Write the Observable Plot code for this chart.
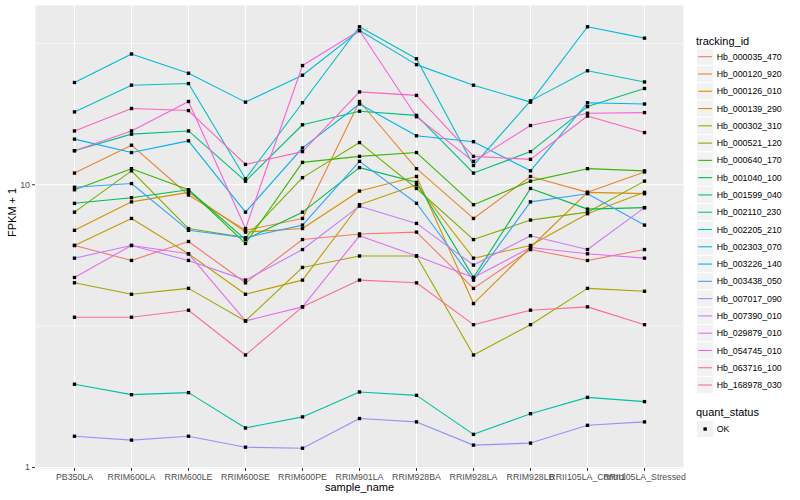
<!DOCTYPE html>
<html>
<head>
<meta charset="utf-8">
<script src="https://cdn.jsdelivr.net/npm/d3@7"></script>
<script src="https://cdn.jsdelivr.net/npm/@observablehq/plot@0.6"></script>
<style>
html, body { margin: 0; padding: 0; background: #fff; }
#wrap { position: relative; width: 800px; height: 500px; overflow: hidden; background: #fff;
  font-family: "Liberation Sans", Arial, Helvetica, sans-serif; }
#chart { position: absolute; left: 0; top: 0; }
#legend { position: absolute; left: 690px; top: 0; }
</style>
</head>
<body>
<div id="wrap"><div id="chart"></div><svg id="legend" width="110" height="500"></svg></div>
<script>
// ---- data (FPKM + 1) ----
const samples = ["PB350LA", "RRIM600LA", "RRIM600LE", "RRIM600SE", "RRIM600PE", "RRIM901LA",
  "RRIM928BA", "RRIM928LA", "RRIM928LB", "RRII105LA_Control", "RRII105LA_Stressed"];

const trackingIds = ["Hb_000035_470", "Hb_000120_920", "Hb_000126_010", "Hb_000139_290", "Hb_000302_310",
  "Hb_000521_120", "Hb_000640_170", "Hb_001040_100", "Hb_001599_040", "Hb_002110_230",
  "Hb_002205_210", "Hb_002303_070", "Hb_003226_140", "Hb_003438_050", "Hb_007017_090",
  "Hb_007390_010", "Hb_029879_010", "Hb_054745_010", "Hb_063716_100", "Hb_168978_030"];

const colors = ["#F8766D", "#EA8331", "#D89000", "#C09B00", "#A3A500", "#7CAE00", "#39B600", "#00BB4E",
  "#00BF7D", "#00C1A3", "#00BFC4", "#00BAE0", "#00B0F6", "#35A2FF", "#9590FF", "#C77CFF",
  "#E76BF3", "#FA62DB", "#FF62BC", "#FF6C91"];

const quantStatus = ["OK"];

const Hb_000035_470 = [6.1, 5.4, 6.3, 4.5, 6.4, 6.7, 6.8, 4.3, 5.9, 5.4, 5.9];
const Hb_000120_920 = [11.0, 13.8, 9.2, 6.9, 7.6, 19.7, 11.4, 7.6, 10.7, 9.4, 11.1];
const Hb_000126_010 = [6.9, 8.7, 9.4, 6.8, 7.0, 9.5, 10.7, 3.8, 6.0, 9.4, 9.3];
const Hb_000139_290 = [6.1, 7.6, 5.7, 4.1, 4.6, 8.5, 10.0, 5.5, 6.1, 7.9, 9.4];
const Hb_000302_310 = [4.5, 4.1, 4.3, 3.3, 5.1, 5.6, 5.6, 2.5, 3.2, 4.3, 4.2];
const Hb_000521_120 = [8.0, 11.2, 7.0, 6.5, 10.6, 14.1, 9.7, 6.4, 7.5, 8.0, 10.3];
const Hb_000640_170 = [9.6, 11.4, 9.6, 6.2, 12.0, 12.6, 13.0, 8.5, 10.3, 11.4, 11.2];
const Hb_001040_100 = [8.6, 9.0, 9.6, 6.4, 8.0, 11.5, 10.2, 4.7, 9.7, 8.2, 8.3];
const Hb_001599_040 = [13.2, 15.1, 15.5, 10.3, 16.3, 18.2, 17.6, 11.0, 13.1, 18.9, 21.9];
const Hb_002110_230 = [1.97, 1.81, 1.84, 1.38, 1.51, 1.85, 1.80, 1.31, 1.55, 1.77, 1.71];
const Hb_002205_210 = [18.1, 22.5, 22.8, 10.5, 19.5, 36.2, 27.9, 11.7, 19.8, 25.3, 23.1];
const Hb_002303_070 = [23.0, 29.0, 24.8, 19.6, 24.4, 35.1, 26.6, 22.5, 19.6, 36.2, 33.0];
const Hb_003226_140 = [14.5, 13.0, 14.3, 8.0, 13.5, 19.3, 14.9, 14.2, 11.2, 19.5, 19.3];
const Hb_003438_050 = [9.8, 10.1, 6.9, 6.5, 7.2, 12.1, 8.6, 4.6, 8.7, 9.3, 7.2];
const Hb_007017_090 = [1.29, 1.25, 1.29, 1.18, 1.17, 1.49, 1.45, 1.20, 1.22, 1.41, 1.45];
const Hb_007390_010 = [5.5, 6.1, 5.4, 4.6, 5.9, 8.4, 7.3, 5.2, 6.6, 5.9, 8.3];
const Hb_029879_010 = [4.7, 6.1, 5.7, 3.3, 3.7, 6.6, 5.6, 4.7, 6.0, 5.7, 5.5];
const Hb_054745_010 = [13.2, 15.5, 19.7, 7.0, 26.4, 35.1, 17.4, 12.1, 16.2, 17.9, 18.0];
const Hb_063716_100 = [15.5, 18.6, 18.3, 11.8, 13.1, 21.3, 20.7, 12.6, 12.3, 17.5, 15.3];
const Hb_168978_030 = [3.4, 3.4, 3.6, 2.5, 3.7, 4.6, 4.5, 3.2, 3.6, 3.7, 3.2];

const series = [Hb_000035_470, Hb_000120_920, Hb_000126_010, Hb_000139_290, Hb_000302_310,
  Hb_000521_120, Hb_000640_170, Hb_001040_100, Hb_001599_040, Hb_002110_230,
  Hb_002205_210, Hb_002303_070, Hb_003226_140, Hb_003438_050, Hb_007017_090,
  Hb_007390_010, Hb_029879_010, Hb_054745_010, Hb_063716_100, Hb_168978_030];

const yBreaks = [1, 10];
const yMinorBreaks = [Math.sqrt(10), Math.sqrt(1000)];

// ---- table for the library ----
const data = trackingIds.flatMap((id, i) =>
  samples.map((s, j) => ({id, sample: s, value: series[i][j], status: quantStatus[0]})));

const FONT = '"Liberation Sans", Arial, Helvetica, sans-serif';

const chart = Plot.plot({
  width: 690,
  height: 500,
  marginLeft: 35,
  marginRight: 7,
  marginTop: 5,
  marginBottom: 32,
  style: {fontFamily: FONT, fontSize: "8.8px", background: "white", color: "black"},
  x: {type: "point", domain: samples, padding: 0.6},
  y: {type: "log", domain: [0.992, 43.05]},
  color: {domain: trackingIds, range: colors},
  marks: [
    Plot.frame({fill: "#EBEBEB", stroke: "none"}),
    Plot.ruleY(yMinorBreaks, {stroke: "white", strokeWidth: 0.55}),
    Plot.ruleY(yBreaks, {stroke: "white", strokeWidth: 1.1}),
    Plot.ruleX(samples, {stroke: "white", strokeWidth: 1.1}),
    Plot.line(data, {x: "sample", y: "value", z: "id", stroke: "id", strokeWidth: 1.1}),
    Plot.dot(data, {x: "sample", y: "value", symbol: "square", r: 1.9, fill: "black", stroke: "none"}),
    Plot.axisX({tickSize: 3, tickPadding: 2, stroke: "#333333", fill: "#4D4D4D", label: null}),
    Plot.axisY({ticks: yBreaks, tickFormat: d => String(d), tickSize: 3, tickPadding: 2.5,
      stroke: "#333333", fill: "#4D4D4D", label: null}),
    Plot.text(["sample_name"], {text: d => d, frameAnchor: "bottom", dy: 22, fontSize: 11, fill: "black"}),
    Plot.text(["FPKM + 1"], {text: d => d, frameAnchor: "left", dx: -23, rotate: -90, fontSize: 11, fill: "black"})
  ]
});
document.getElementById("chart").appendChild(chart);

// ---- legend (ggplot style, to the right) ----
const lg = d3.select("#legend").style("font-family", FONT);
const KEY = 17.28, KX = 6.5, LX = 26.7;
lg.append("text").attr("x", 6).attr("y", 44.6).style("font-size", "11px").text("tracking_id");
trackingIds.forEach((id, i) => {
  const cy = 56.7 + i * KEY;
  lg.append("rect").attr("x", KX).attr("y", cy - KEY / 2).attr("width", KEY).attr("height", KEY)
    .attr("fill", "#F2F2F2").attr("stroke", "white").attr("stroke-width", 1);
  lg.append("line").attr("x1", KX + 1.7).attr("x2", KX + KEY - 1.7).attr("y1", cy).attr("y2", cy)
    .attr("stroke", colors[i]).attr("stroke-width", 1.1);
  lg.append("text").attr("x", LX).attr("y", cy + 3.1).style("font-size", "8.8px").text(id);
});
lg.append("text").attr("x", 6).attr("y", 416.3).style("font-size", "11px").text("quant_status");
quantStatus.forEach((q, i) => {
  const cy = 429 + i * KEY;
  lg.append("rect").attr("x", KX).attr("y", cy - KEY / 2).attr("width", KEY).attr("height", KEY)
    .attr("fill", "#F2F2F2").attr("stroke", "white").attr("stroke-width", 1);
  lg.append("rect").attr("x", KX + KEY / 2 - 1.7).attr("y", cy - 1.7).attr("width", 3.4).attr("height", 3.4)
    .attr("fill", "black");
  lg.append("text").attr("x", LX).attr("y", cy + 3.1).style("font-size", "8.8px").text(q);
});
</script>
</body>
</html>
